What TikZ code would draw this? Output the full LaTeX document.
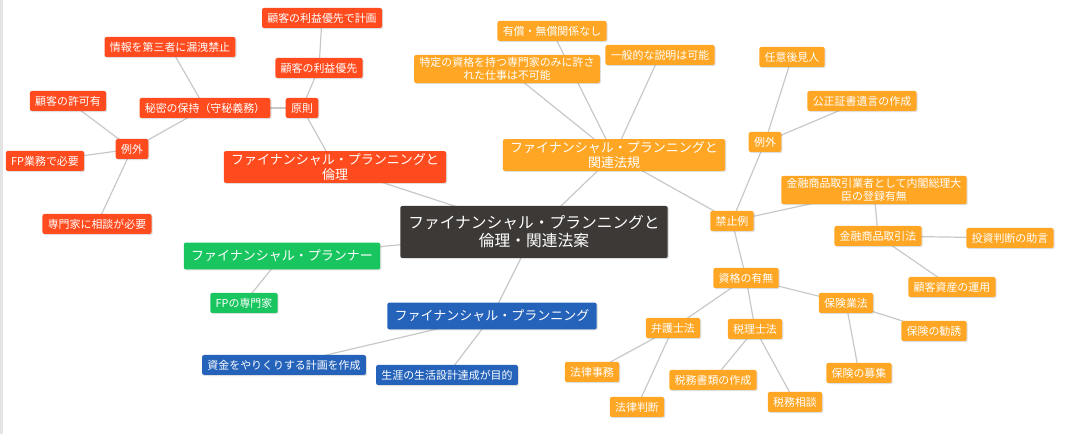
\documentclass[tikz,border=0pt]{standalone}
\usepackage{fontspec}
\setmainfont{Noto Sans CJK JP}
\usepackage{xcolor}
\usetikzlibrary{shadows,backgrounds}
\definecolor{mmred}{RGB}{255,75,30}
\definecolor{mmorange}{RGB}{255,167,36}
\definecolor{mmgreen}{RGB}{25,197,95}
\definecolor{mmblue}{RGB}{37,99,187}
\definecolor{mmdark}{RGB}{61,57,55}
\definecolor{linkgray}{RGB}{200,200,200}
\definecolor{stripgray}{RGB}{228,228,228}

\begin{document}
\begin{tikzpicture}[x=0.75pt,y=-0.75pt,
        leaf/.style={rounded corners=1.5pt, text=white, align=center,
            font=\fontsize{8.2}{9.6}\selectfont, inner xsep=4pt, inner ysep=2pt,
            minimum height=15pt,
            drop shadow={opacity=0.25,shadow xshift=0.8pt,shadow yshift=-0.8pt}},
        branch/.style={leaf, font=\fontsize{9.75}{10.8}\selectfont, inner xsep=5.5pt,
            minimum height=20pt},
        rootbox/.style={leaf, fill=mmdark, font=\fontsize{11.8}{13.5}\selectfont,
            inner xsep=6pt, minimum height=39pt},
        redleaf/.style={leaf, fill=mmred},
        orleaf/.style={leaf, fill=mmorange},
        grleaf/.style={leaf, fill=mmgreen},
        blleaf/.style={leaf, fill=mmblue},
        link/.style={draw=linkgray, line width=0.9pt}]
        \useasboundingbox (0,0) rectangle (1072,434);
        \fill[stripgray] (0,0) rectangle (3,434);

        \node[rootbox] (root) at (534,232) {ファイナンシャル・プランニングと\\倫理・関連法案};

        \node[branch, fill=mmred] (ethic) at (335,167) {ファイナンシャル・プランニングと\\倫理};
        \node[redleaf] (gensoku) at (302,108) {原則};
        \node[redleaf] (rieki) at (319,68) {顧客の利益優先};
        \node[redleaf] (riekiplan) at (322,18) {顧客の利益優先で計画};
        \node[redleaf] (himitsu) at (205,108) {秘密の保持（守秘義務）};
        \node[redleaf] (joho) at (170,47) {情報を第三者に漏洩禁止};
        \node[redleaf] (reigaiA) at (132,149) {例外};
        \node[redleaf] (kyoka) at (68,101) {顧客の許可有};
        \node[redleaf] (fpgyomu) at (45,161) {FP業務で必要};
        \node[redleaf] (sodan) at (97,224) {専門家に相談が必要};

        \node[branch, fill=mmorange] (law) at (614,155) {ファイナンシャル・プランニングと\\関連法規};
        \node[orleaf] (yusho) at (552,31) {有償・無償関係なし};
        \node[orleaf] (ippan) at (660,55) {一般的な説明は可能};
        \node[orleaf] (tokutei) at (507,69) {特定の資格を持つ専門家のみに許さ\\れた仕事は不可能};
        \node[orleaf] (kinshi) at (732,221) {禁止例};
        \node[orleaf] (reigaiB) at (765,142) {例外};
        \node[orleaf] (nini) at (792,57) {任意後見人};
        \node[orleaf] (kosei) at (862,101) {公正証書遺言の作成};
        \node[orleaf] (gyosha) at (874,190) {金融商品取引業者として内閣総理大\\臣の登録有無};
        \node[orleaf] (kinsho) at (878,236) {金融商品取引法};
        \node[orleaf] (toshi) at (1010,238) {投資判断の助言};
        \node[orleaf] (unyo) at (952,287) {顧客資産の運用};
        \node[orleaf] (shikaku) at (746,278) {資格の有無};
        \node[orleaf] (bengo) at (673,328) {弁護士法};
        \node[orleaf] (zeiri) at (755,329) {税理士法};
        \node[orleaf] (hoken) at (846,303) {保険業法};
        \node[orleaf] (jimu) at (592,372) {法律事務};
        \node[orleaf] (handan) at (637,407) {法律判断};
        \node[orleaf] (shorui) at (713,380) {税務書類の作成};
        \node[orleaf] (zeisodan) at (795,402) {税務相談};
        \node[orleaf] (kanyu) at (934,331) {保険の勧誘};
        \node[orleaf] (boshu) at (859,373) {保険の募集};

        \node[branch, fill=mmgreen] (planner) at (282,256) {ファイナンシャル・プランナー};
        \node[grleaf] (fpsenmon) at (244,303) {FPの専門家};

        \node[branch, fill=mmblue] (planning) at (492,316) {ファイナンシャル・プランニング};
        \node[blleaf] (shikin) at (284,365) {資金をやりくりする計画を作成};
        \node[blleaf] (shogai) at (447,375) {生涯の生活設計達成が目的};

        \begin{scope}[on background layer]
        \draw[link] (root.center) -- (ethic.center);
        \draw[link] (root.center) -- (law.center);
        \draw[link] (root.center) -- (planner.center);
        \draw[link] (root.center) -- (planning.center);
        \draw[link] (ethic.center) -- (gensoku.center);
        \draw[link] (gensoku.center) -- (rieki.center);
        \draw[link] (rieki.center) -- (riekiplan.center);
        \draw[link] (gensoku.center) -- (himitsu.center);
        \draw[link] (himitsu.center) -- (joho.center);
        \draw[link] (himitsu.center) -- (reigaiA.center);
        \draw[link] (reigaiA.center) -- (kyoka.center);
        \draw[link] (reigaiA.center) -- (fpgyomu.center);
        \draw[link] (reigaiA.center) -- (sodan.center);
        \draw[link] (law.center) -- (yusho.center);
        \draw[link] (law.center) -- (ippan.center);
        \draw[link] (law.center) -- (tokutei.center);
        \draw[link] (law.center) -- (kinshi.center);
        \draw[link] (kinshi.center) -- (reigaiB.center);
        \draw[link] (reigaiB.center) -- (nini.center);
        \draw[link] (reigaiB.center) -- (kosei.center);
        \draw[link] (kinshi.center) -- (gyosha.center);
        \draw[link] (gyosha.center) -- (kinsho.center);
        \draw[link] (kinsho.center) -- (toshi.center);
        \draw[link] (kinsho.center) -- (unyo.center);
        \draw[link] (kinshi.center) -- (shikaku.center);
        \draw[link] (shikaku.center) -- (bengo.center);
        \draw[link] (shikaku.center) -- (zeiri.center);
        \draw[link] (shikaku.center) -- (hoken.center);
        \draw[link] (bengo.center) -- (jimu.center);
        \draw[link] (bengo.center) -- (handan.center);
        \draw[link] (zeiri.center) -- (shorui.center);
        \draw[link] (zeiri.center) -- (zeisodan.center);
        \draw[link] (hoken.center) -- (kanyu.center);
        \draw[link] (hoken.center) -- (boshu.center);
        \draw[link] (planner.center) -- (fpsenmon.center);
        \draw[link] (planning.center) -- (shikin.center);
        \draw[link] (planning.center) -- (shogai.center);
        \end{scope}
\end{tikzpicture}
\end{document}
